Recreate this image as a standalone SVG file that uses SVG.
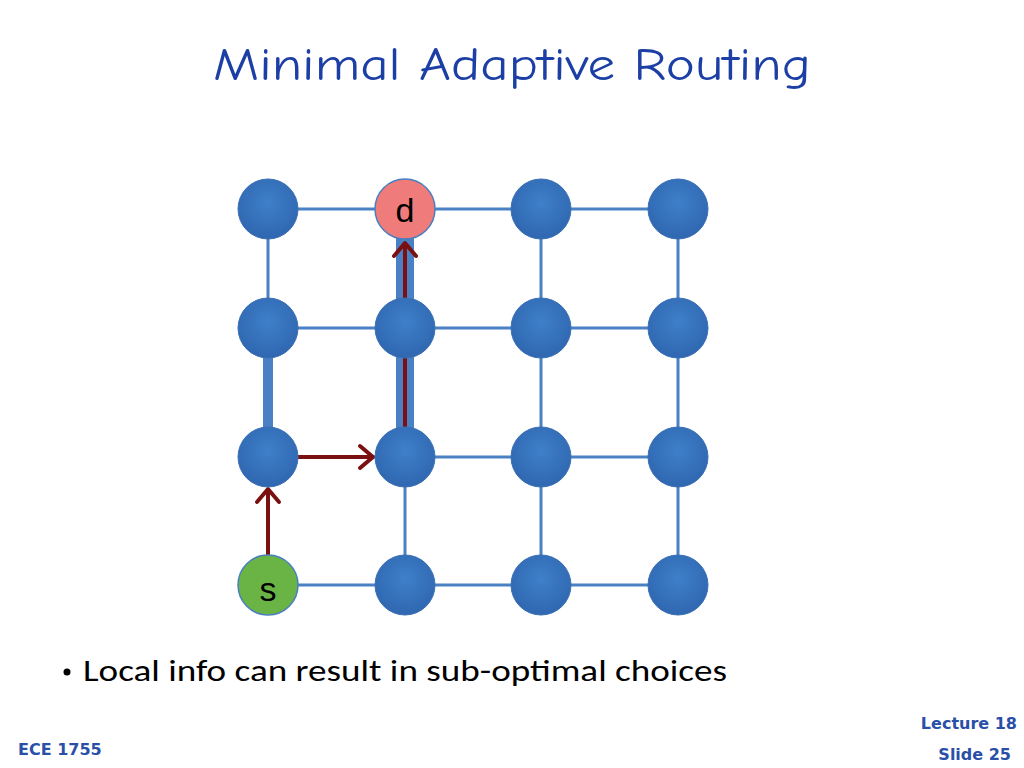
<svg xmlns="http://www.w3.org/2000/svg" width="1024" height="768" viewBox="0 0 1024 768">
<defs>
<radialGradient id="g" cx="50%" cy="40%" r="60%"><stop offset="0" stop-color="#3f7fca"/><stop offset="1" stop-color="#2f67b0"/></radialGradient>
</defs>
<style>
.l{stroke:#4a80c4;stroke-width:3;fill:none}
.t{stroke:#4a80c4;fill:none}
.n{fill:url(#g);stroke:#3a70b5;stroke-width:1}
.a{stroke:#7a1010;stroke-width:4;fill:none}
.ar{stroke:#7a1010;stroke-width:4;fill:none;stroke-linecap:round;stroke-linejoin:round}
.lab{font-family:"Liberation Sans",Arial,sans-serif;font-size:34px;fill:#000;text-anchor:middle}
.f{font-family:"DejaVu Sans",sans-serif;font-size:16px;fill:#2a4fa8;font-weight:bold}
</style>
<rect width="1024" height="768" fill="#fff"/>
<text x="512" y="80" font-family="'Comic Neue','DejaVu Sans',sans-serif" font-size="46" fill="#1c3fa5" text-anchor="middle" textLength="598" lengthAdjust="spacingAndGlyphs">Minimal Adaptive Routing</text>
<g id="connectors">
<path class="l" d="M268,209H678M268,328H678M268,457H678M268,585H678M268,209V328M541,209V585M678,209V585M405,457V585"/>
<path class="t" stroke-width="10" d="M268,328V457"/>
<path class="t" stroke-width="18" d="M405,209V457"/>
<line class="a" x1="268" y1="555" x2="268" y2="492"/>
<path class="ar" d="M257,502L268,489L279,502"/>
<line class="a" x1="298" y1="457" x2="372" y2="457"/>
<path class="ar" d="M360,446L373,457L360,468"/>
<line class="a" x1="405" y1="427" x2="405" y2="243"/>
<path class="ar" d="M394,256L405,243L416,256"/>
</g>
<g id="n00"><circle class="n" cx="268" cy="209" r="30"/></g>
<g id="n10"><circle cx="405" cy="209" r="30" fill="#ef7b7b" stroke="#4a7fc0" stroke-width="1.5"/><text class="lab" x="405" y="222">d</text></g>
<g id="n20"><circle class="n" cx="541" cy="209" r="30"/></g>
<g id="n30"><circle class="n" cx="678" cy="209" r="30"/></g>
<g id="n01"><circle class="n" cx="268" cy="328" r="30"/></g>
<g id="n11"><circle class="n" cx="405" cy="328" r="30"/></g>
<g id="n21"><circle class="n" cx="541" cy="328" r="30"/></g>
<g id="n31"><circle class="n" cx="678" cy="328" r="30"/></g>
<g id="n02"><circle class="n" cx="268" cy="457" r="30"/></g>
<g id="n12"><circle class="n" cx="405" cy="457" r="30"/></g>
<g id="n22"><circle class="n" cx="541" cy="457" r="30"/></g>
<g id="n32"><circle class="n" cx="678" cy="457" r="30"/></g>
<g id="n03"><circle cx="268" cy="585" r="30" fill="#6ab345" stroke="#4a7fc0" stroke-width="1.5"/><text class="lab" x="268" y="601">s</text></g>
<g id="n13"><circle class="n" cx="405" cy="585" r="30"/></g>
<g id="n23"><circle class="n" cx="541" cy="585" r="30"/></g>
<g id="n33"><circle class="n" cx="678" cy="585" r="30"/></g>
<circle cx="67" cy="672" r="3.5" fill="#000"/>
<text x="83" y="681" font-family="Calibri,'Open Sans',sans-serif" font-size="30" textLength="644" lengthAdjust="spacingAndGlyphs">Local info can result in sub-optimal choices</text>
<text class="f" x="18" y="755">ECE 1755</text>
<text class="f" x="1017" y="729" text-anchor="end">Lecture 18</text>
<text class="f" x="1011" y="760" text-anchor="end">Slide 25</text>
</svg>
